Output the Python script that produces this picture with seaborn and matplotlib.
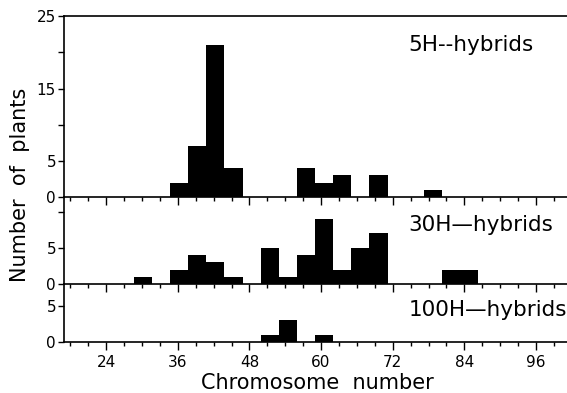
import numpy as np
import pandas as pd
import matplotlib
matplotlib.use("Agg")
import matplotlib.pyplot as plt
from matplotlib.ticker import MultipleLocator
import seaborn as sns

# ---- data ----
h5_chrom = [36, 39, 42, 45, 57, 60, 63, 69, 78]
h5_plants = [2, 7, 21, 4, 4, 2, 3, 3, 1]

h30_chrom = [30, 36, 39, 42, 45, 51, 54, 57, 60, 63, 66, 69, 81, 84]
h30_plants = [1, 2, 4, 3, 1, 5, 1, 4, 9, 2, 5, 7, 2, 2]

h100_chrom = [51, 54, 60]
h100_plants = [1, 3, 1]

panel_labels = ["5H--hybrids", "30H\u2014hybrids", "100H\u2014hybrids"]
x_ticks = [24, 36, 48, 60, 72, 84, 96]
y_ticks = [[0, 5, 10, 15, 20, 25], [0, 5, 10], [0, 5]]
y_ticklabels = [["0", "5", "", "15", "", "25"], ["0", "5", ""], ["0", "5"]]
y_max = [25, 12, 8]

sns.set_theme(style="ticks")
plt.rcParams["font.family"] = ["DejaVu Sans"]
plt.rcParams["text.color"] = "black"
plt.rcParams["axes.labelcolor"] = "black"
plt.rcParams["xtick.color"] = "black"
plt.rcParams["ytick.color"] = "black"
plt.rcParams["xtick.labelcolor"] = "black"
plt.rcParams["ytick.labelcolor"] = "black"

fig = plt.figure(figsize=(5.67, 3.93), dpi=100)
gs = fig.add_gridspec(3, 1, height_ratios=y_max, hspace=0,
                      left=0.1135, right=1.0, top=0.959, bottom=0.130)

datasets = [(h5_chrom, h5_plants), (h30_chrom, h30_plants), (h100_chrom, h100_plants)]
text_y = [21.0, 8.2, 4.4]
axes = []
for i, (xs, ws) in enumerate(datasets):
    ax = fig.add_subplot(gs[i])
    df = pd.DataFrame({"chrom": xs, "plants": ws})
    sns.histplot(data=df, x="chrom", weights="plants", binwidth=3,
                 binrange=(16.5, 101.5), stat="count", color="black",
                 edgecolor="black", linewidth=0, alpha=1, ax=ax)
    ax.set_xlim(17, 101.2)
    ax.set_ylim(0, y_max[i])
    ax.set_xlabel("")
    ax.set_ylabel("")
    ax.set_yticks(y_ticks[i])
    ax.set_yticklabels(y_ticklabels[i])
    ax.set_xticks(x_ticks)
    ax.xaxis.set_minor_locator(MultipleLocator(3))
    ax.tick_params(axis="x", which="major", direction="out", length=5.5,
                   width=1.0, color="black", labelsize=11, pad=4,
                   labelcolor="black")
    ax.tick_params(axis="x", which="minor", direction="out", length=3,
                   width=1.0, color="black")
    ax.tick_params(axis="y", direction="out", length=4, width=1.0,
                   color="black", labelsize=11, pad=2, labelcolor="black")
    if i < 2:
        ax.tick_params(axis="x", labelbottom=False)
    ax.spines["right"].set_visible(False)
    ax.spines["top"].set_visible(i == 0)
    for s in ax.spines.values():
        s.set_linewidth(1.2)
        s.set_color("black")
    ax.text(74.6, text_y[i], panel_labels[i], fontsize=15.5, ha="left",
            va="center", color="black")
    ax.patch.set_alpha(0)
    axes.append(ax)

fig.text(0.035, 0.53, "Number  of  plants", rotation=90, ha="center",
         va="center", fontsize=15, color="black")
fig.text(0.56, 0.025, "Chromosome  number", ha="center", va="center",
         fontsize=15, color="black")

fig.savefig("out.png", dpi=100)
